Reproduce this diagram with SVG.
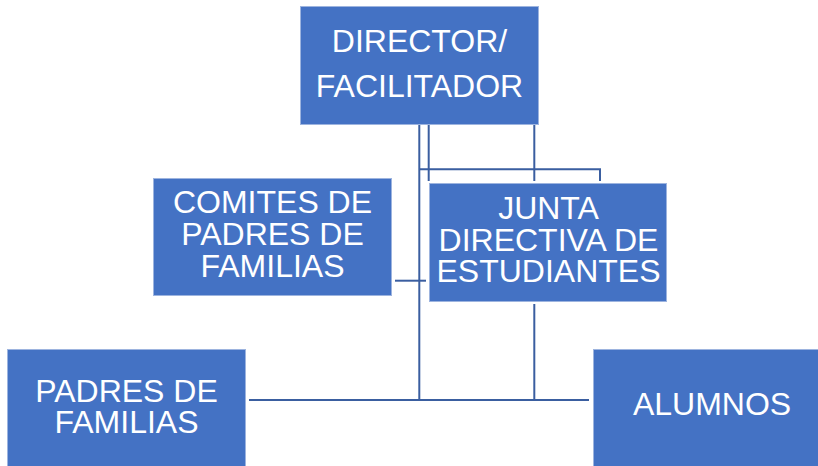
<svg xmlns="http://www.w3.org/2000/svg" width="818" height="466" viewBox="0 0 818 466">
<style>
.box{fill:#4472C4;stroke:#9DB4DF;stroke-width:1}
.t{font-family:"Liberation Sans",Arial,sans-serif;font-size:32px;fill:#FFFFFF;text-anchor:middle}
.c{stroke:#3A5EA0;stroke-width:2;fill:none}
</style>
<rect width="818" height="466" fill="#FFFFFF"/>
<g id="connectors">
<path class="c" d="M419.3,125 V400"/>
<path class="c" d="M428.7,125 V181"/>
<path class="c" d="M534.3,125 V181"/>
<path class="c" d="M419.3,169.3 H600 V181"/>
<path class="c" d="M395,280.7 H426"/>
<path class="c" d="M534.3,304 V400"/>
<path class="c" d="M249,400 H589"/>
</g>
<g id="director">
<rect class="box" x="300.5" y="6.5" width="238" height="118"/>
<text class="t" x="419.5" y="51.7">DIRECTOR/</text>
<text class="t" x="419.5" y="97.3">FACILITADOR</text>
</g>
<g id="comites">
<rect class="box" x="153.5" y="178.5" width="238" height="117"/>
<text class="t" x="272.5" y="213.3">COMITES DE</text>
<text class="t" x="272.5" y="245.3">PADRES DE</text>
<text class="t" x="272.5" y="277">FAMILIAS</text>
</g>
<g id="junta">
<rect class="box" x="429.5" y="183.5" width="237" height="118"/>
<text class="t" x="548.5" y="219">JUNTA</text>
<text class="t" x="548.5" y="250.7">DIRECTIVA DE</text>
<text class="t" x="548.5" y="281.7">ESTUDIANTES</text>
</g>
<g id="padres">
<rect class="box" x="7.5" y="349.5" width="238" height="130"/>
<text class="t" x="126.5" y="401.7">PADRES DE</text>
<text class="t" x="126.5" y="432.7">FAMILIAS</text>
</g>
<g id="alumnos">
<rect class="box" x="593.5" y="349.5" width="238" height="130"/>
<text class="t" x="712" y="415">ALUMNOS</text>
</g>
</svg>
